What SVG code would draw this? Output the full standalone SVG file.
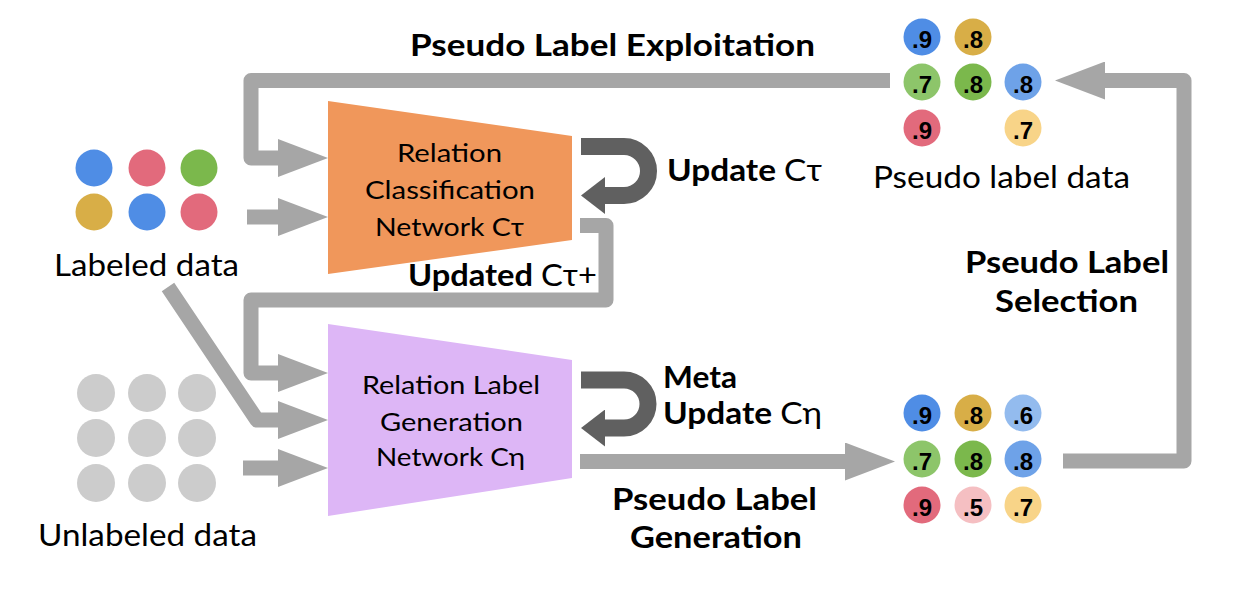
<svg xmlns="http://www.w3.org/2000/svg" width="1236" height="596" viewBox="0 0 1236 596">
<style>
.reg{font-family:Lato,"Open Sans","DejaVu Sans",sans-serif;font-weight:normal;fill:#000}
.bld{font-family:Lato,"Open Sans","DejaVu Sans",sans-serif;font-weight:bold;fill:#000;font-size:31px}
.num{font-family:"Liberation Sans",Arial,sans-serif;font-weight:bold;font-size:24px;fill:#000;text-anchor:middle}
.conn{fill:none;stroke:#A6A6A6;stroke-width:15;stroke-linejoin:round}
.dark{fill:none;stroke:#606060;stroke-width:17}
.n{font-weight:normal}
.node{font-size:25px}
</style>
<defs>
<marker id="ah" viewBox="0 0 50 38" refX="0" refY="19" markerWidth="50" markerHeight="38" markerUnits="userSpaceOnUse" orient="auto">
<path d="M0,0 L50,19 L0,38 Z" fill="#A6A6A6"/>
</marker>
<marker id="dh" viewBox="0 0 24 37" refX="0" refY="18.5" markerWidth="24" markerHeight="37" markerUnits="userSpaceOnUse" orient="auto">
<path d="M0,0 L24,18.5 L0,37 Z" fill="#606060"/>
</marker>
</defs>

<g id="connectors">
<path class="conn" d="M890,80.5 H251 V158 H278" marker-end="url(#ah)"/>
<path class="conn" d="M247,217 H278" marker-end="url(#ah)"/>
<path class="conn" d="M580,225.5 H606 V300 H251 V373 H278" marker-end="url(#ah)"/>
<path class="conn" d="M168,287 L257,420 H278" marker-end="url(#ah)"/>
<path class="conn" d="M243,468 H278" marker-end="url(#ah)"/>
<path class="conn" d="M580,461.5 H845" marker-end="url(#ah)"/>
<path class="conn" d="M1063,461 H1184 V80.5 H1105" marker-end="url(#ah)"/>
<path class="dark" d="M581,146.5 H624 A24.5,24.5 0 0 1 624,195.5 H605" marker-end="url(#dh)"/>
<path class="dark" d="M581,380 H624 A24,24 0 0 1 624,428 H605" marker-end="url(#dh)"/>
</g>

<g id="labels">
<text class="bld" x="410" y="56" textLength="405" lengthAdjust="spacingAndGlyphs">Pseudo Label Exploitation</text>
<text class="bld" x="667" y="181" textLength="155" lengthAdjust="spacingAndGlyphs">Update <tspan class="n">Cτ</tspan></text>
<text class="bld" x="408" y="286" textLength="189" lengthAdjust="spacingAndGlyphs">Updated <tspan class="n">Cτ+</tspan></text>
<text class="bld" x="663" y="388" textLength="74" lengthAdjust="spacingAndGlyphs">Meta</text>
<text class="bld" x="663" y="424" textLength="159" lengthAdjust="spacingAndGlyphs">Update <tspan class="n">Cη</tspan></text>
<text class="bld" x="612" y="510" textLength="205" lengthAdjust="spacingAndGlyphs">Pseudo Label</text>
<text class="bld" x="630" y="548" textLength="172" lengthAdjust="spacingAndGlyphs">Generation</text>
<text class="bld" x="965" y="273" textLength="204" lengthAdjust="spacingAndGlyphs">Pseudo Label</text>
<text class="bld" x="995" y="312" textLength="143" lengthAdjust="spacingAndGlyphs">Selection</text>
</g>

<g id="classifier">
<polygon points="328,101 572,136 572,240 328,274" fill="#F0975B"/>
<text class="reg node" x="397" y="162" textLength="105" lengthAdjust="spacingAndGlyphs">Relation</text>
<text class="reg node" x="365" y="199" textLength="170" lengthAdjust="spacingAndGlyphs">Classification</text>
<text class="reg node" x="375" y="236" textLength="149" lengthAdjust="spacingAndGlyphs">Network Cτ</text>
</g>

<g id="generator">
<polygon points="328,324 572,360 572,478 328,516" fill="#DDB6F6"/>
<text class="reg node" x="362" y="394" textLength="178" lengthAdjust="spacingAndGlyphs">Relation Label</text>
<text class="reg node" x="380" y="431" textLength="143" lengthAdjust="spacingAndGlyphs">Generation</text>
<text class="reg node" x="376" y="466" textLength="149" lengthAdjust="spacingAndGlyphs">Network Cη</text>
</g>

<g id="labeled-data">
<circle cx="94" cy="168" r="18.5" fill="#4F8DE5"/>
<circle cx="147" cy="168" r="18.5" fill="#E26A7C"/>
<circle cx="199" cy="168" r="18.5" fill="#7BB84C"/>
<circle cx="94" cy="212" r="18.5" fill="#D8AE47"/>
<circle cx="147" cy="212" r="18.5" fill="#4F8DE5"/>
<circle cx="199" cy="212" r="18.5" fill="#E26A7C"/>
<text class="reg" font-size="30" x="54" y="276" textLength="185" lengthAdjust="spacingAndGlyphs">Labeled data</text>
</g>

<g id="unlabeled-data">
<circle cx="96" cy="393" r="19" fill="#CCCCCC"/>
<circle cx="147" cy="393" r="19" fill="#CCCCCC"/>
<circle cx="197" cy="393" r="19" fill="#CCCCCC"/>
<circle cx="96" cy="438" r="19" fill="#CCCCCC"/>
<circle cx="147" cy="438" r="19" fill="#CCCCCC"/>
<circle cx="197" cy="438" r="19" fill="#CCCCCC"/>
<circle cx="96" cy="483" r="19" fill="#CCCCCC"/>
<circle cx="147" cy="483" r="19" fill="#CCCCCC"/>
<circle cx="197" cy="483" r="19" fill="#CCCCCC"/>
<text class="reg" font-size="30" x="38" y="546" textLength="219" lengthAdjust="spacingAndGlyphs">Unlabeled data</text>
</g>

<g id="pseudo-label-data">
<circle cx="922" cy="37" r="18.5" fill="#4F8DE5"/><text class="num" x="922" y="48">.9</text>
<circle cx="973" cy="37" r="18.5" fill="#D8AE47"/><text class="num" x="973" y="48">.8</text>
<circle cx="922" cy="82" r="18.5" fill="#8DC56A"/><text class="num" x="922" y="93">.7</text>
<circle cx="973" cy="82" r="18.5" fill="#7BB84C"/><text class="num" x="973" y="93">.8</text>
<circle cx="1023" cy="82" r="18.5" fill="#6EA2E8"/><text class="num" x="1023" y="93">.8</text>
<circle cx="922" cy="128" r="18.5" fill="#E26A7C"/><text class="num" x="922" y="139">.9</text>
<circle cx="1023" cy="128" r="18.5" fill="#F8D488"/><text class="num" x="1023" y="139">.7</text>
<text class="reg" font-size="30" x="873" y="188" textLength="257" lengthAdjust="spacingAndGlyphs">Pseudo label data</text>
</g>

<g id="generated-pseudo-labels">
<circle cx="922" cy="413" r="18.5" fill="#4F8DE5"/><text class="num" x="922" y="424">.9</text>
<circle cx="973" cy="413" r="18.5" fill="#D8AE47"/><text class="num" x="973" y="424">.8</text>
<circle cx="1023" cy="413" r="18.5" fill="#93BBEE"/><text class="num" x="1023" y="424">.6</text>
<circle cx="922" cy="459" r="18.5" fill="#8DC56A"/><text class="num" x="922" y="470">.7</text>
<circle cx="973" cy="459" r="18.5" fill="#7BB84C"/><text class="num" x="973" y="470">.8</text>
<circle cx="1023" cy="459" r="18.5" fill="#6EA2E8"/><text class="num" x="1023" y="470">.8</text>
<circle cx="922" cy="505" r="18.5" fill="#E26A7C"/><text class="num" x="922" y="516">.9</text>
<circle cx="973" cy="505" r="18.5" fill="#F5BFC2"/><text class="num" x="973" y="516">.5</text>
<circle cx="1023" cy="505" r="18.5" fill="#F8D488"/><text class="num" x="1023" y="516">.7</text>
</g>
</svg>
